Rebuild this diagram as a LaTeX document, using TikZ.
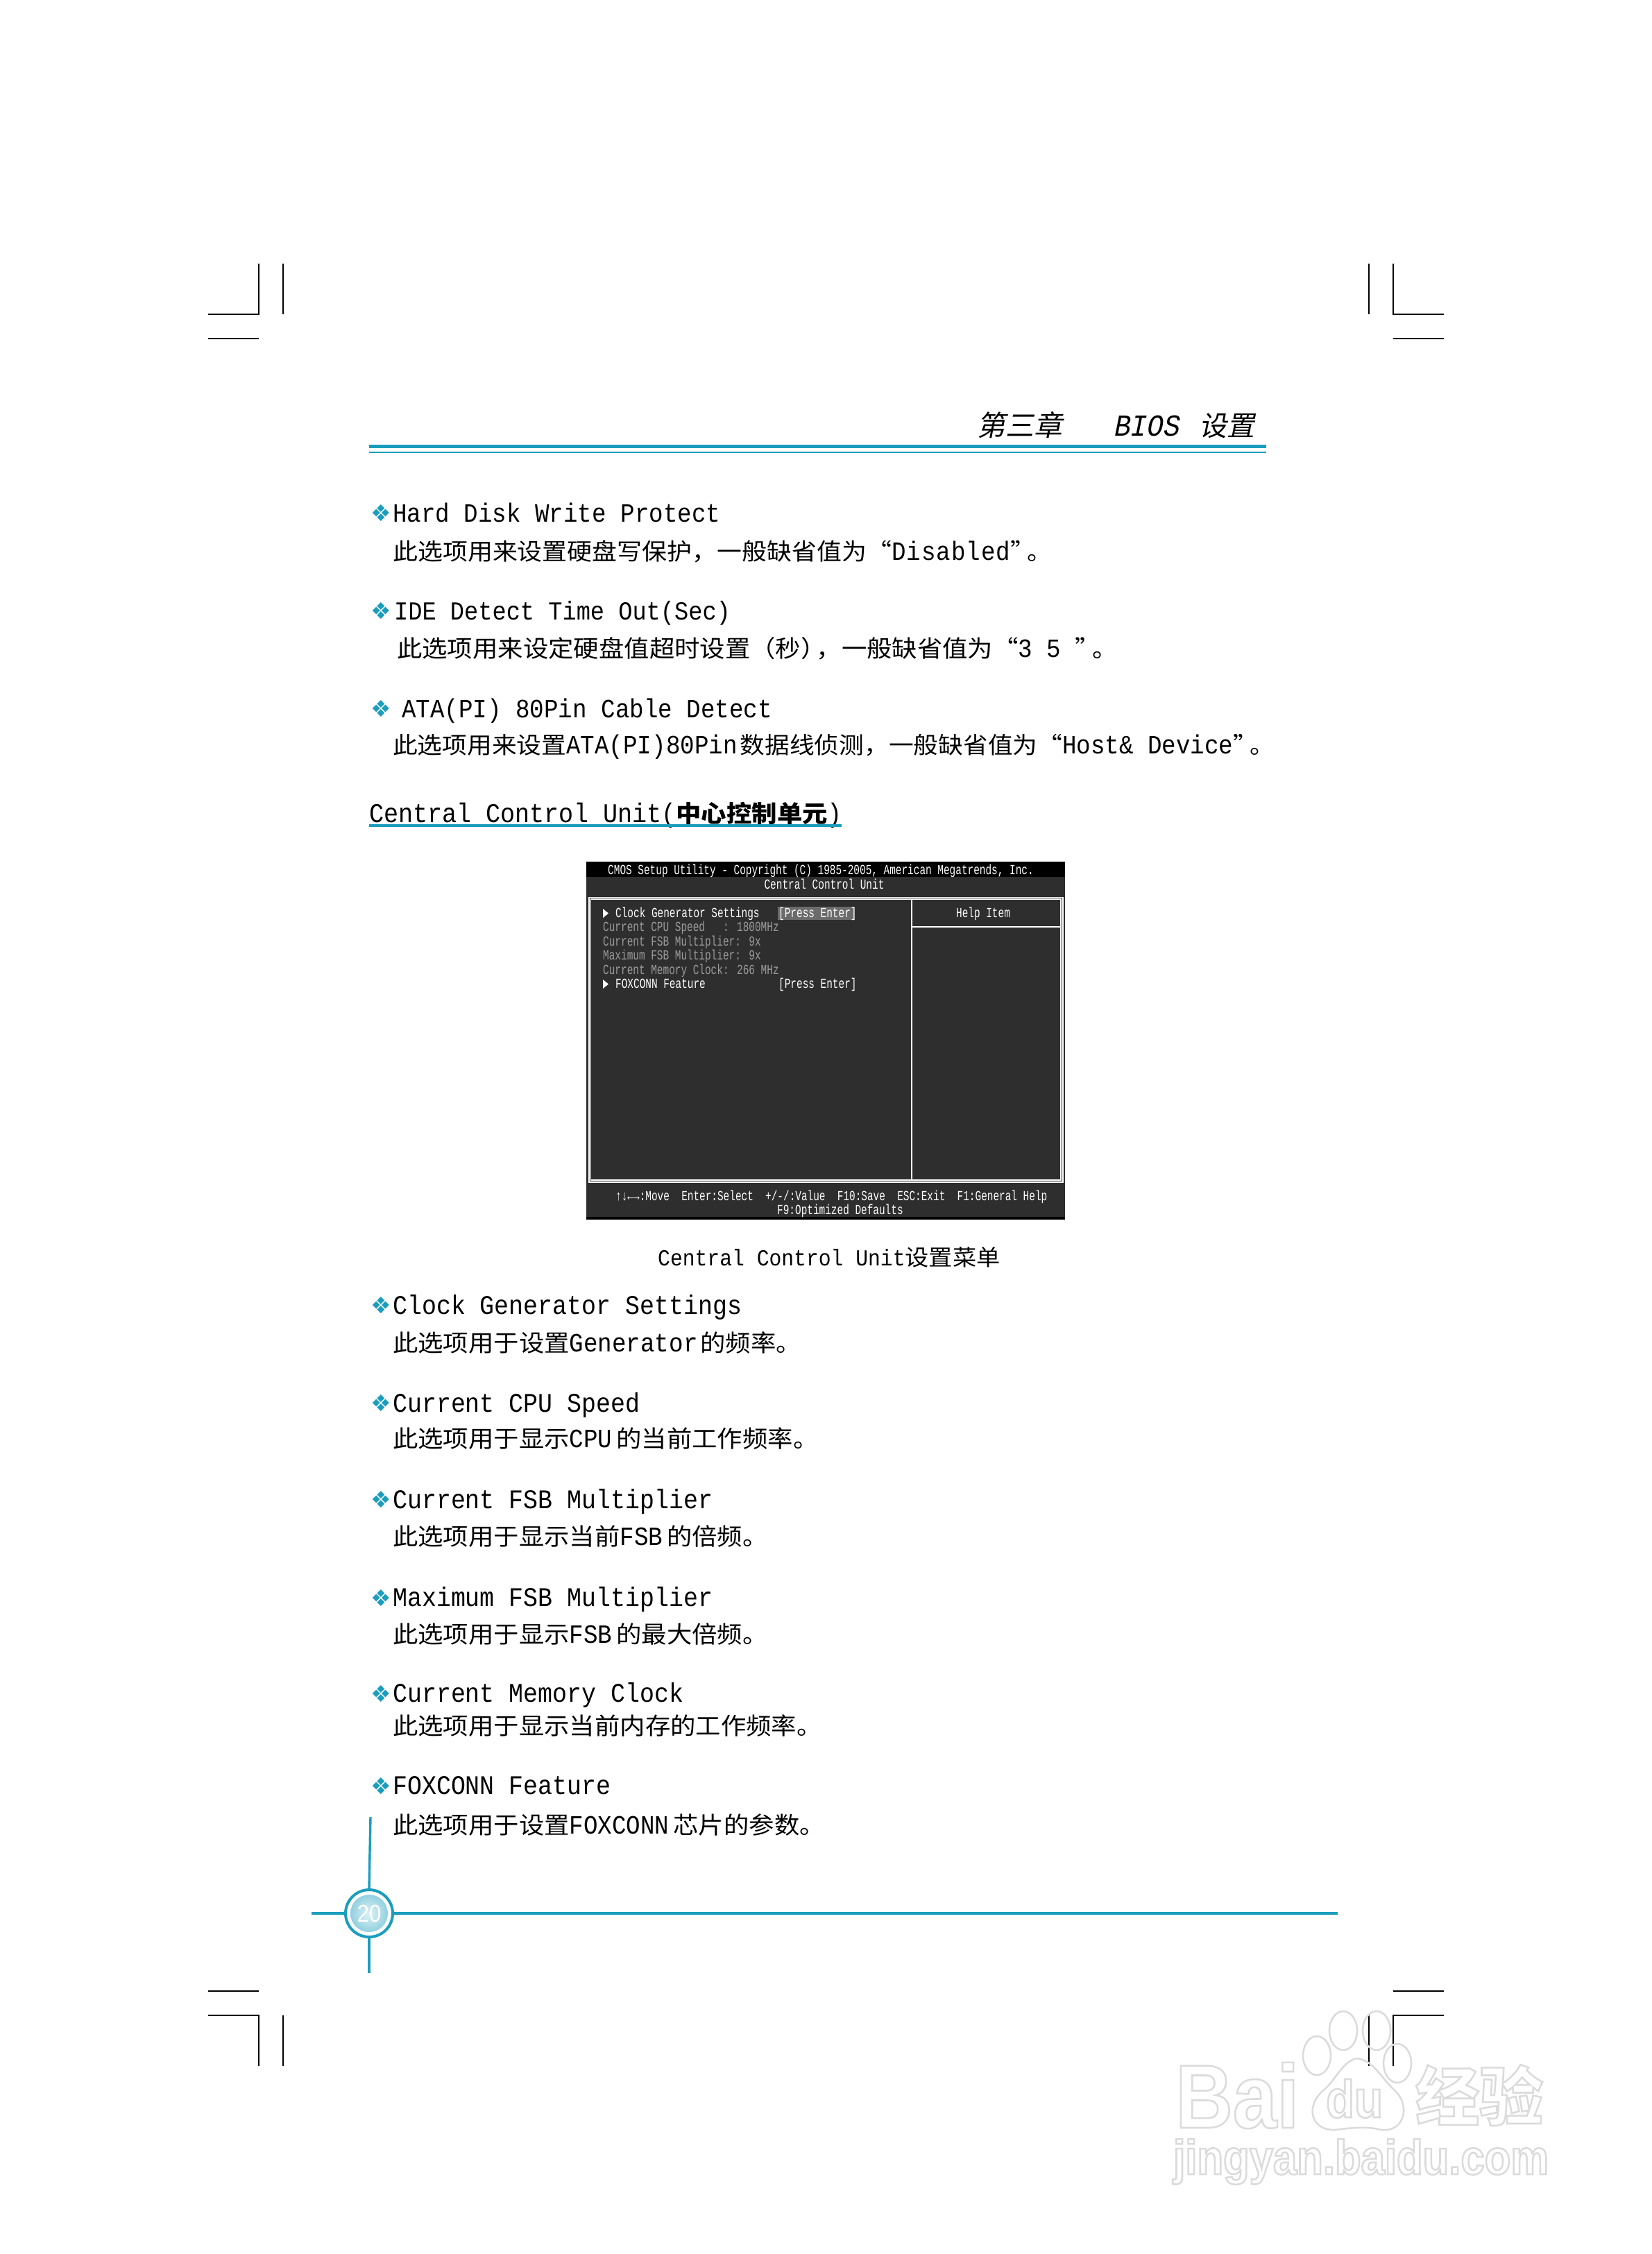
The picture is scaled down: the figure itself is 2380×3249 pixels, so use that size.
\documentclass[tikz,border=0pt]{standalone}
\usepackage{fontspec}
\newfontfamily\enfont[FakeStretch=0.9]{Liberation Mono}
\newfontfamily\cnfont[FakeStretch=1.07]{Noto Sans CJK SC}
\newfontfamily\biosfont[FakeStretch=0.72]{Liberation Mono}
\newfontfamily\headenfont[FakeStretch=0.9,FakeSlant=0.2]{Liberation Mono}
\newfontfamily\headcnfont[FakeSlant=0.2]{Noto Sans CJK SC}
\newfontfamily\symfont{DejaVu Sans}
\newfontfamily\markfont[FakeStretch=0.88]{Liberation Sans}
\newfontfamily\markcnfont{Noto Sans CJK SC}
\newcommand{\lat}[1]{{\enfont\fontsize{38}{40}\selectfont #1}}
% hollow letters of the watermark
\newcommand{\hollow}[1]{\special{pdf:code q 1 Tr 2.6 w 0.86 0.86 0.86 RG}#1\special{pdf:code Q}}
\definecolor{rulecol}{HTML}{1B9DBD}
\definecolor{screencol}{HTML}{2E2E2E}
\definecolor{dimcol}{HTML}{9C9C9C}
\tikzset{
  crop/.style={line width=2.2pt,black},
  rulecolor/.style={line width=3.4pt,rulecol},
  heading/.style={anchor=base west,inner sep=0pt,font=\enfont\fontsize{38}{40}\selectfont},
  headingwide/.style={heading,font=\enfont\fontsize{38.8}{40}\selectfont},
  desc/.style={anchor=base west,inner sep=0pt,font=\cnfont\fontsize{34}{40}\selectfont},
  bullet/.style={inner sep=0pt,rulecol,font=\symfont\fontsize{33}{36}\selectfont},
  bios/.style={anchor=base west,inner sep=0pt,white,font=\biosfont\fontsize{20}{22}\selectfont},
  biosdim/.style={bios,dimcol},
  biosmid/.style={bios,anchor=base},
  wmark/.style={anchor=base west,inner sep=0pt,font=\markfont\bfseries\fontsize{130}{130}\selectfont},
  wline/.style={line width=2.6pt,black!14}
}
\begin{document}
\begin{tikzpicture}[x=1pt,y=-1pt]
\useasboundingbox (0,0) rectangle (2380,3249);

% crop marks
\draw [crop] (300,453) -- (373,453) -- (373,380);
\draw [crop] (408,380) -- (408,453);
\draw [crop] (300,488) -- (373,488);
\draw [crop] (2081,453) -- (2008,453) -- (2008,380);
\draw [crop] (1973,380) -- (1973,453);
\draw [crop] (2008,488) -- (2081,488);
\draw [crop] (300,2870) -- (373,2870);
\draw [crop] (300,2905) -- (373,2905) -- (373,2978);
\draw [crop] (408,2905) -- (408,2978);
\draw [crop] (2008,2870) -- (2081,2870);
\draw [crop] (2081,2905) -- (2008,2905) -- (2008,2978);
\draw [crop] (1973,2905) -- (1973,2978);

% running head
\node [anchor=base east,inner sep=0pt,font=\headcnfont\fontsize{41}{44}\selectfont] (chapter) at (1532,628) {第三章};
\node [anchor=base west,inner sep=0pt,font=\headenfont\fontsize{44}{46}\selectfont] (biosword) at (1604,628) {BIOS};
\node [anchor=base east,inner sep=0pt,font=\headcnfont\fontsize{40}{44}\selectfont] (setup) at (1809,628) {设置};
\draw [line width=4.7pt,rulecol] (532,643.7) -- (1825,643.7);
\draw [line width=2.5pt,rulecol] (532,652) -- (1825,652);

% first three items
\node [bullet] (b1) at (549,739.5) {❖};
\node [heading] (hard) at (566,752) {Hard Disk Write Protect};
\node [desc,font=\cnfont\fontsize{33.6}{40}\selectfont] (harddesc) at (566,807) {此选项用来设置硬盘写保护，一般缺省值为“\lat{D\kern1pt i\kern1pt s\kern1pt a\kern1pt b\kern1pt l\kern1pt e\kern1pt d}”\kern-12pt。};
\node [bullet] (b2) at (549,880.5) {❖};
\node [heading,font=\enfont\fontsize{37.4}{40}\selectfont] (ide) at (568,893) {IDE Detect Time Out(Sec)};
\node [desc] (idedesc) at (572,947) {此选项用来设定硬盘值超时设置（秒）\kern-14pt，一般缺省值为“\lat{3 5~}”\kern-12pt。};
\node [bullet] (b3) at (549,1021.5) {❖};
\node [heading] (ata) at (579,1034) {ATA(PI) 80Pin Cable Detect};
\node [desc,font=\cnfont\fontsize{33.4}{40}\selectfont] (atadesc) at (566,1086) {此选项用来设置\lat{ATA(PI)80Pin}\kern4pt 数据线侦测，一般缺省值为“\lat{Host\& Device}”\kern-12pt。};

% section title
\node [headingwide,font=\enfont\fontsize{39}{40}\selectfont] (section) at (532,1185) {Central Control Unit({\cnfont\bfseries\fontsize{34}{40}\selectfont 中心控制单元})};
\draw [line width=3.4pt,rulecol] (532,1190) -- (1213,1190);

% BIOS screen
\fill [screencol] (845,1242) rectangle (1535,1754);
\fill [black] (845,1242) rectangle (1535,1264);
\fill [black] (845,1754) rectangle (1535,1758);
\draw [white,line width=1.6pt] (849,1293.5) rectangle (1532,1704);
\draw [white,line width=1.6pt] (851.5,1296) rectangle (1529,1701);
\draw [white,line width=1.6pt] (1314,1296) -- (1314,1701);
\draw [white,line width=1.6pt] (1314,1336) -- (1529,1336);
\fill [black!58] (1121,1307) rectangle (1232,1326);
\node [biosmid] (biostitle) at (1183,1260) {CMOS Setup Utility - Copyright (C) 1985-2005, American Megatrends, Inc.};
\node [biosmid] (biosunit) at (1188,1281) {Central Control Unit};
\fill [white] (869,1310) -- (877,1316.5) -- (869,1323) -- cycle;
\node [bios] (rowclock) at (887,1322) {Clock Generator Settings};
\node [bios] (rowclockval) at (1122,1322) {[Press Enter]};
\node [biosdim] (rowcpu) at (869,1342) {Current CPU Speed~~~: 1800MHz};
\node [biosdim] (rowcur) at (869,1363) {Current FSB Multiplier: 9x};
\node [biosdim] (rowmax) at (869,1383) {Maximum FSB Multiplier: 9x};
\node [biosdim] (rowmem) at (869,1404) {Current Memory Clock: 266 MHz};
\fill [white] (869,1412) -- (877,1418.5) -- (869,1425) -- cycle;
\node [bios] (rowfox) at (887,1424) {FOXCONN Feature};
\node [bios] (rowfoxval) at (1122,1424) {[Press Enter]};
\node [biosmid] (helpitem) at (1417,1322) {Help Item};
\node [bios] (keys) at (887,1730) {↑↓←→:Move~~Enter:Select~~+/-/:Value~~F10:Save~~ESC:Exit~~F1:General Help};
\node [bios] (keysfn) at (1120,1750) {F9:Optimized Defaults};

% caption
\node [anchor=base west,inner sep=0pt,font=\enfont\fontsize{33}{40}\selectfont] (caption) at (948,1824) {Central Control Unit{\cnfont\fontsize{32}{40}\selectfont 设置菜单}};

% second list
\node [bullet] (b4) at (549,1882) {❖};
\node [headingwide] (clock) at (566,1894) {Clock Generator Settings};
\node [desc] (clockdesc) at (566,1948) {此选项用于设置\lat{Generator}\kern4pt 的频率。};
\node [bullet] (b5) at (549,2023) {❖};
\node [headingwide] (cpu) at (566,2035) {Current CPU Speed};
\node [desc] (cpudesc) at (566,2086) {此选项用于显示\lat{CPU}\kern6pt 的当前工作频率。};
\node [bullet] (b6) at (549,2162) {❖};
\node [headingwide] (fsb) at (566,2174) {Current FSB Multiplier};
\node [desc] (fsbdesc) at (566,2227) {此选项用于显示当前\lat{FSB}\kern6pt 的倍频。};
\node [bullet] (b7) at (549,2303) {❖};
\node [headingwide] (maxfsb) at (566,2315) {Maximum FSB Multiplier};
\node [desc] (maxfsbdesc) at (566,2368) {此选项用于显示\lat{FSB}\kern6pt 的最大倍频。};
\node [bullet] (b8) at (549,2441) {❖};
\node [headingwide] (memory) at (566,2453) {Current Memory Clock};
\node [desc] (memorydesc) at (566,2500) {此选项用于显示当前内存的工作频率。};
\node [bullet] (b9) at (549,2574) {❖};
\node [headingwide] (foxconn) at (566,2586) {FOXCONN Feature};
\node [desc] (foxconndesc) at (566,2643) {此选项用于设置\lat{FOXCONN}\kern6pt 芯片的参数。};

% page number
\node [circle,draw=rulecol,line width=4pt,fill=white,minimum size=68pt,inner sep=0pt] (pagering) at (532,2758) {};
\node [circle,inner sep=0pt,minimum size=54pt,inner color=rulecol!14,outer color=rulecol!48,white,font=\markfont\fontsize{35}{36}\selectfont] (pagenum) at (532,2758) {20};
\coordinate (linetop) at (534,2619);
\coordinate (linebot) at (532,2844);
\coordinate (lineleft) at (449,2758);
\coordinate (lineright) at (1928,2758);
\draw [rulecolor] (linetop) -- (pagering.north);
\draw [rulecolor] (pagering.south) -- (linebot);
\draw [rulecolor] (lineleft) -- (pagering.west);
\draw [rulecolor] (pagering.east) -- (lineright);

% watermark
\draw [wline] (1898,2963) ellipse (20 and 28);
\draw [wline] (1936,2927) ellipse (20 and 28);
\draw [wline] (1984,2927) ellipse (20 and 28);
\draw [wline] (2014,2974) ellipse (20 and 28);
\draw [wline] (1956,2967) .. controls (1935,2970) and (1925,3000) .. (1905,3015) .. controls (1880,3040) and (1892,3072) .. (1925,3070) .. controls (1940,3068) and (1970,3064) .. (1990,3070) .. controls (2025,3074) and (2032,3035) .. (2012,3015) .. controls (1990,2995) and (1980,2970) .. (1956,2967);
\node [wmark] (markbai) at (1694,3067) {\hollow{Bai}};
\node [wmark,font=\markfont\bfseries\fontsize{76}{80}\selectfont] (markdu) at (1911,3052) {\hollow{du}};
\node [wmark,font=\markcnfont\bfseries\fontsize{92}{96}\selectfont] (markjy) at (2040,3056) {\hollow{经验}};
\node [wmark,font=\markfont\bfseries\fontsize{70}{72}\selectfont] (markurl) at (1691,3134) {\hollow{jingyan.baidu.com}};
\end{tikzpicture}
\end{document}
